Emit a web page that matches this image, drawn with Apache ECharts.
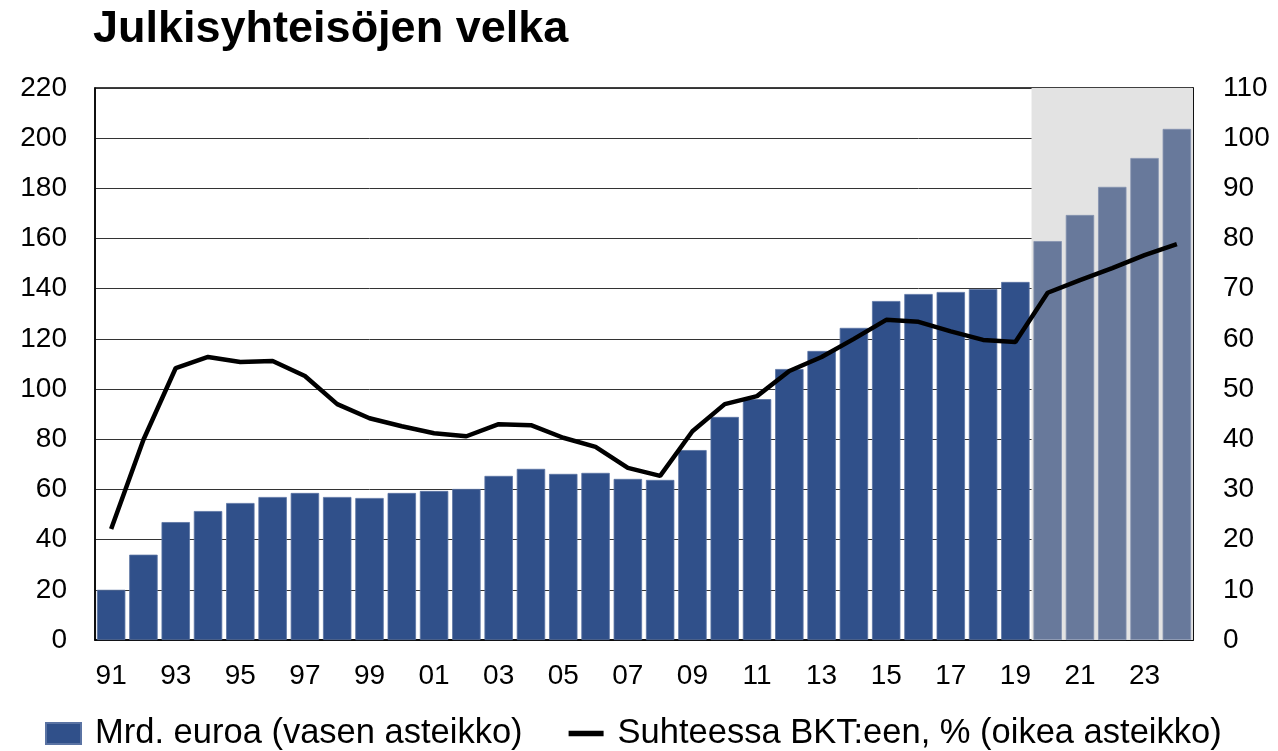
<!DOCTYPE html>
<html><head><meta charset="utf-8">
<script src="https://cdn.jsdelivr.net/npm/echarts@6/dist/echarts.min.js"></script>
<style>html,body{margin:0;padding:0;background:#fff}#c{width:1278px;height:751px}</style>
</head><body><div id="c"></div>
<script>
const years = ['91','92','93','94','95','96','97','98','99','00','01','02','03','04','05','06','07','08','09','10','11','12','13','14','15','16','17','18','19','20','21','22','23','24'];
const debtBn = [20,34,47,51.4,54.6,57,58.6,57,56.6,58.6,59.4,60.2,65.4,68.2,66.2,66.6,64.2,63.8,75.7,88.9,96,108,115.2,124.4,135.1,137.9,138.7,139.9,142.7,159,169.4,180.6,192.1,203.7];
const debtPctGdp = [22.1,39.9,54.2,56.4,55.4,55.6,52.6,47,44.2,42.6,41.2,40.6,43,42.8,40.3,38.5,34.3,32.7,41.6,47,48.6,53.6,56.4,60,63.8,63.4,61.5,59.8,59.4,69.2,71.7,74.1,76.7,78.9];
const forecastStart = 29; // 2020 onwards
const leftTicks = {min:0,max:220,interval:20};
const rightTicks = {min:0,max:110,interval:10};

const FONT = 'Liberation Sans, Arial, sans-serif';
const chart = echarts.init(document.getElementById('c'));
chart.setOption({
  animation:false,
  title:{text:'Julkisyhteisöjen velka',left:93,top:7,padding:0,textStyle:{fontFamily:FONT,fontWeight:'bold',fontSize:45,color:'#000'}},
  grid:{left:95,right:85,top:88,bottom:111,show:true,borderColor:'#000',borderWidth:1.5,backgroundColor:'transparent'},
  legend:{left:45,bottom:0,padding:0,itemGap:46,itemWidth:35,itemHeight:21,
    textStyle:{fontFamily:FONT,fontSize:34.5,color:'#000',padding:[0,0,0,9]},
    data:[{name:'Mrd. euroa (vasen asteikko)',icon:'rect'},{name:'Suhteessa BKT:een, % (oikea asteikko)',icon:'path://M0,11h28v4.5h-28z'}]},
  xAxis:[{type:'category',data:years,
    axisLine:{lineStyle:{color:'#000',width:1.5}},axisTick:{show:false},
    axisLabel:{interval:1,fontFamily:FONT,fontSize:28,color:'#000',margin:22}},
    {type:'value',min:0,max:years.length,show:false}],
  yAxis:[{type:'value',min:leftTicks.min,max:leftTicks.max,interval:leftTicks.interval,
    axisLine:{show:true,lineStyle:{color:'#000',width:1.5}},axisTick:{show:false},
    axisLabel:{fontFamily:FONT,fontSize:28,color:'#000',margin:28},
    splitLine:{lineStyle:{color:'#333',width:1}}},
    {type:'value',min:rightTicks.min,max:rightTicks.max,interval:rightTicks.interval,
    axisLine:{show:true,lineStyle:{color:'#000',width:1.5}},axisTick:{show:false},
    axisLabel:{fontFamily:FONT,fontSize:28,color:'#000',margin:30},splitLine:{show:false}}],
  series:[
    {type:'line',xAxisIndex:1,yAxisIndex:0,data:[[forecastStart,0],[years.length,0]],symbol:'none',silent:true,
      lineStyle:{opacity:0},z:0,
      markArea:{silent:true,itemStyle:{color:'#e3e3e3'},data:[[{xAxis:forecastStart},{xAxis:years.length}]]}},
    {name:'Mrd. euroa (vasen asteikko)',type:'bar',yAxisIndex:0,barCategoryGap:'12%',z:2,
      itemStyle:{color:'#30508a',borderColor:'#5a73a3',borderWidth:0.8},
      data:debtBn.map((v,i)=> i>=forecastStart ? {value:v,itemStyle:{color:'#68799b',borderColor:'#8593b0'}} : v)},
    {name:'Suhteessa BKT:een, % (oikea asteikko)',type:'line',yAxisIndex:1,data:debtPctGdp,symbol:'none',z:3,
      lineStyle:{color:'#000',width:4.5},itemStyle:{color:'#000'}}
  ]
});
</script></body></html>
